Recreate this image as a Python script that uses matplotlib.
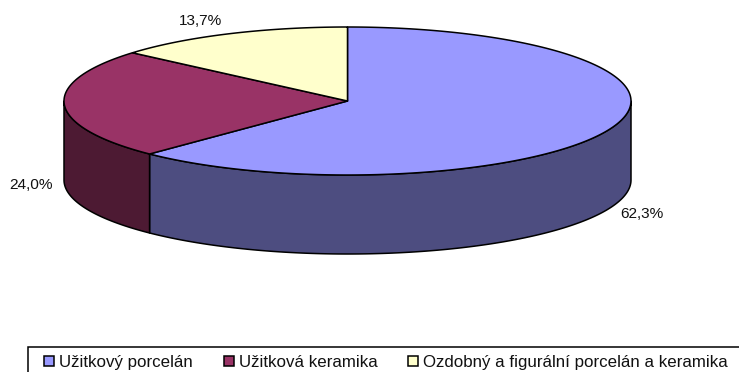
import numpy as np
import matplotlib
matplotlib.use("Agg")
import matplotlib.pyplot as plt
from matplotlib.patches import Polygon, Rectangle

categories = ["Užitkový porcelán", "Užitková keramika", "Ozdobný a figurální porcelán a keramika"]
shares = [62.3, 24.0, 13.7]
top_colors = ["#9999FF", "#993366", "#FFFFCC"]
side_colors = ["#4D4D80", "#4D1A33", "#808066"]

plt.rcParams['font.family'] = ['Liberation Sans', 'DejaVu Sans']
fig = plt.figure(figsize=(7.39, 3.72), dpi=100)
ax = fig.add_axes([0, 0, 1, 1])
ax.set_xlim(0, 739)
ax.set_ylim(372, 0)
ax.axis("off")

cx, cy, rx, ry, depth = 347.5, 101.0, 283.5, 74.0, 79.0
LW = 1.1

def pt(theta, dz=0.0):
    t = np.radians(theta)
    return np.column_stack([cx + rx * np.sin(t), cy - ry * np.cos(t) + dz])

edges = np.concatenate([[0], np.cumsum(shares)]) * 3.6

# Side walls (only the front half, 90..270 degrees, is visible)
for a, b, col in zip(edges[:-1], edges[1:], side_colors):
    lo, hi = max(a, 90), min(b, 270)
    if lo >= hi:
        continue
    th = np.linspace(lo, hi, 200)
    poly = np.vstack([pt(th), pt(th[::-1], depth)])
    ax.add_patch(Polygon(poly, closed=True, fc=col, ec="black", lw=LW, joinstyle="round"))

# Top faces
for a, b, col in zip(edges[:-1], edges[1:], top_colors):
    th = np.linspace(a, b, 300)
    poly = np.vstack([[[cx, cy]], pt(th)])
    ax.add_patch(Polygon(poly, closed=True, fc=col, ec="black", lw=LW, joinstyle="round"))

# Data labels
label_pos = [(641.5, 213.7), (31.5, 185), (200.5, 20.7)]
for v, (x, y) in zip(shares, label_pos):
    ax.text(x, y, f"{v:.1f}%".replace(".", ","), ha="center", va="center",
            fontsize=11.1, color="#111111")

# Legend frame runs off the canvas on the right and bottom
ax.add_patch(Rectangle((27.5, 346.5), 760, 60, fc="white", ec="black", lw=LW, clip_on=True))
handles = [Rectangle((0, 0), 1, 1, fc=c, ec="black", lw=LW) for c in top_colors]
leg = ax.legend(handles, categories, ncol=3, frameon=False, loc="center left",
                bbox_to_anchor=(44 / 739, 1 - 362.5 / 372), borderaxespad=0, borderpad=0,
                fontsize=12.2, handlelength=0.6, handleheight=0.6, handletextpad=0.3,
                columnspacing=1.8, labelcolor="#111111")

fig.savefig("out.png", dpi=100)
